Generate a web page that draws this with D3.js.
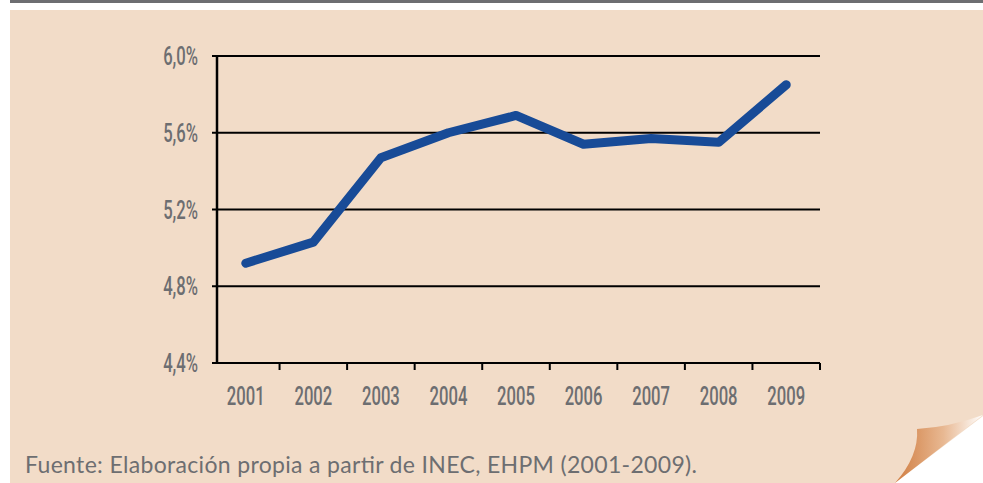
<!DOCTYPE html>
<html>
<head>
<meta charset="utf-8">
<script src="https://cdn.jsdelivr.net/npm/d3@7/dist/d3.min.js"></script>
<style>
  body { margin: 0; background: #fff; }
  svg { display: block; }
  .tick-label { font-family: Roboto, "DejaVu Sans Condensed", sans-serif; fill: #6d6e71; font-size: 26px; font-weight: 500; }
  .source { font-family: Lato, "Open Sans", sans-serif; fill: #6d6e71; font-size: 23px; }
</style>
</head>
<body>
<svg id="chart" width="983" height="483"></svg>
<script>
const years = ["2001", "2002", "2003", "2004", "2005", "2006", "2007", "2008", "2009"];
const rates = [4.92, 5.03, 5.47, 5.60, 5.69, 5.54, 5.57, 5.55, 5.85];
const yTicks = [4.4, 4.8, 5.2, 5.6, 6.0];

const W = 983, H = 483;
const PLOT = { left: 212, axisX: 217, right: 820, top: 56, bottom: 363 };
const SQUEEZE = 0.64; // condensed look of the original tick font

const svg = d3.select("#chart");

// page background + top rule
svg.append("rect").attr("x", 10).attr("y", 0).attr("width", W - 10).attr("height", 3).attr("fill", "#6d6e71");
svg.append("rect").attr("x", 10).attr("y", 10).attr("width", W - 10).attr("height", H - 10).attr("fill", "#f2dcc8");

// page curl in the corner
const defs = svg.append("defs");
const grad = defs.append("linearGradient").attr("id", "curl").attr("x1", "0").attr("x2", "1").attr("y1", "0").attr("y2", "0");
grad.append("stop").attr("offset", "0%").attr("stop-color", "#d07d41");
grad.append("stop").attr("offset", "55%").attr("stop-color", "#e8b892");
grad.append("stop").attr("offset", "100%").attr("stop-color", "#ffffff");
svg.append("path").attr("d", "M895,483 L983,416 L983,483 Z").attr("fill", "#fff");
svg.append("path")
  .attr("d", "M895,483 Q919,456 917,429 Q950,427 983,415 L895,483 Z")
  .attr("fill", "url(#curl)");

const x = d3.scaleBand().domain(years).range([PLOT.left, PLOT.right]);
const y = d3.scaleLinear().domain([4.4, 6.0]).range([PLOT.bottom, PLOT.top]);

// horizontal grid lines with left ticks
svg.append("g")
  .selectAll("line")
  .data(yTicks)
  .join("line")
  .attr("x1", PLOT.left)
  .attr("x2", PLOT.right)
  .attr("y1", (d) => y(d))
  .attr("y2", (d) => y(d))
  .attr("stroke", "#000")
  .attr("stroke-width", 2);

// y axis line
svg.append("line")
  .attr("x1", PLOT.axisX).attr("x2", PLOT.axisX)
  .attr("y1", y(6.0) - 1).attr("y2", y(4.4) + 1)
  .attr("stroke", "#000").attr("stroke-width", 2.5);

// x ticks at the band edges
svg.append("g")
  .selectAll("line")
  .data(years)
  .join("line")
  .attr("x1", (d) => x(d) + x.bandwidth())
  .attr("x2", (d) => x(d) + x.bandwidth())
  .attr("y1", PLOT.bottom)
  .attr("y2", PLOT.bottom + 7)
  .attr("stroke", "#000")
  .attr("stroke-width", 2);

// y labels
svg.append("g")
  .selectAll("text")
  .data(yTicks)
  .join("text")
  .attr("class", "tick-label")
  .attr("transform", (d) => `translate(198,${y(d) + 9}) scale(${SQUEEZE},1)`)
  .attr("text-anchor", "end")
  .text((d) => d3.format(".1f")(d).replace(".", ",") + "%");

// x labels
svg.append("g")
  .selectAll("text")
  .data(years)
  .join("text")
  .attr("class", "tick-label")
  .attr("transform", (d) => `translate(${x(d) + x.bandwidth() / 2},405) scale(${SQUEEZE},1)`)
  .attr("text-anchor", "middle")
  .text((d) => d);

// series
const line = d3.line()
  .x((d, i) => x(years[i]) + x.bandwidth() / 2)
  .y((d) => y(d));

svg.append("path")
  .datum(rates)
  .attr("d", line)
  .attr("fill", "none")
  .attr("stroke", "#184b97")
  .attr("stroke-width", 9)
  .attr("stroke-linejoin", "round")
  .attr("stroke-linecap", "round");

svg.append("text")
  .attr("class", "source")
  .attr("x", 25)
  .attr("y", 473)
  .attr("textLength", 672)
  .attr("lengthAdjust", "spacing")
  .text("Fuente: Elaboración propia a partir de INEC, EHPM (2001-2009).");
</script>
</body>
</html>
